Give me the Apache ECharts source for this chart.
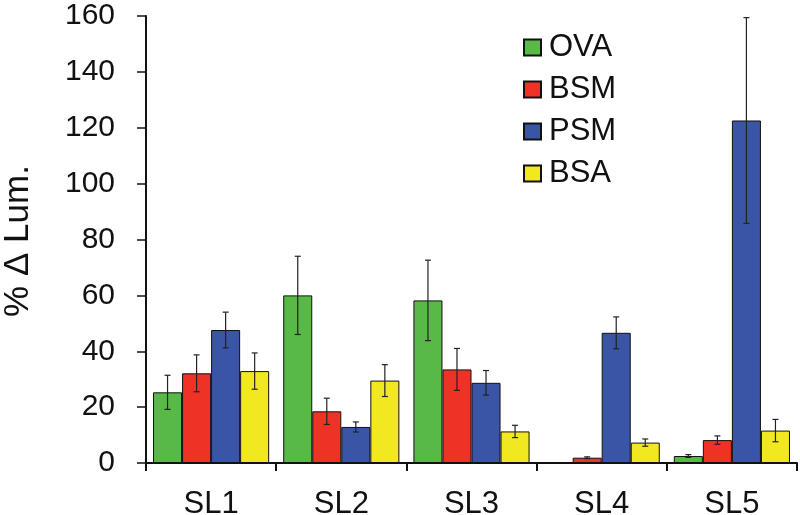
<!DOCTYPE html>
<html>
<head>
<meta charset="utf-8">
<script src="https://cdn.jsdelivr.net/npm/echarts@6/dist/echarts.min.js"></script>
<style>html,body{margin:0;padding:0;background:#fff}#c{width:800px;height:515px}</style>
</head>
<body>
<div id="c"></div>
<script>
const categories = ['SL1', 'SL2', 'SL3', 'SL4', 'SL5'];
const seriesNames = ['OVA', 'BSM', 'PSM', 'BSA'];
const ova = [25.3, 60.0, 58.2, 0, 2.5];
const ovaErr = [6.1, 14.0, 14.4, 0, 0.5];
const bsm = [32.1, 18.5, 33.5, 1.9, 8.2];
const bsmErr = [6.6, 4.7, 7.5, 0.3, 1.5];
const psm = [47.6, 12.9, 28.7, 46.6, 122.6];
const psmErr = [6.4, 1.8, 4.4, 5.7, 36.8];
const bsa = [32.9, 29.5, 11.3, 7.3, 11.6];
const bsaErr = [6.5, 5.7, 2.2, 1.3, 4.0];
const yTicks = [0, 20, 40, 60, 80, 100, 120, 140, 160];

const values = [ova, bsm, psm, bsa];
const errors = [ovaErr, bsmErr, psmErr, bsaErr];
const colors = ['#58b947', '#ee3226', '#3a55a5', '#f2e822'];
const catGap = 0.108;
const FONT = '"Liberation Sans", Arial, sans-serif';

const chart = echarts.init(document.getElementById('c'));

const barSeries = seriesNames.map((name, k) => ({
  name: name,
  type: 'bar',
  data: values[k],
  barGap: '0%',
  barCategoryGap: (catGap * 100) + '%',
  itemStyle: { color: colors[k], borderColor: '#111', borderWidth: 1 },
  z: 2
}));

const errSeries = seriesNames.map((name, k) => ({
  type: 'custom',
  name: name + ' err',
  z: 5,
  silent: true,
  data: values[k].map((v, i) => [i, v - errors[k][i], v + errors[k][i], errors[k][i]]),
  renderItem: function (params, api) {
    if (api.value(3) <= 0) return null;
    const cat = api.value(0);
    const lo = api.coord([cat, api.value(1)]);
    const hi = api.coord([cat, api.value(2)]);
    const catW = api.size([1, 0])[0];
    const barW = catW * (1 - catGap) / 4;
    const x = lo[0] + (k - 1.5) * barW;
    const cap = 3;
    const style = { stroke: '#222', lineWidth: 1.2 };
    return {
      type: 'group',
      children: [
        { type: 'line', shape: { x1: x, y1: lo[1], x2: x, y2: hi[1] }, style: style },
        { type: 'line', shape: { x1: x - cap, y1: lo[1], x2: x + cap, y2: lo[1] }, style: style },
        { type: 'line', shape: { x1: x - cap, y1: hi[1], x2: x + cap, y2: hi[1] }, style: style }
      ]
    };
  }
}));

chart.setOption({
  animation: false,
  backgroundColor: '#fff',
  grid: { left: 146, right: 3, top: 16, bottom: 52, containLabel: false, outerBoundsMode: 'none' },
  legend: {
    data: seriesNames,
    orient: 'vertical',
    left: 518,
    top: 27,
    itemWidth: 17,
    itemHeight: 16,
    itemGap: 11,
    icon: 'rect',
    textStyle: { fontFamily: FONT, fontSize: 31, color: '#111', lineHeight: 30, padding: [0, 0, 0, 3] }
  },
  xAxis: {
    type: 'category',
    data: categories,
    axisLine: { lineStyle: { color: '#111', width: 2 } },
    axisTick: { show: true, length: 8, lineStyle: { color: '#111', width: 2 } },
    axisLabel: { fontFamily: FONT, fontSize: 31, color: '#111', margin: 26 }
  },
  yAxis: {
    type: 'value',
    min: yTicks[0],
    max: yTicks[yTicks.length - 1],
    interval: 20,
    splitLine: { show: false },
    axisLine: { show: true, lineStyle: { color: '#111', width: 2 } },
    axisTick: { show: true, length: 9, lineStyle: { color: '#111', width: 1.5 } },
    axisLabel: { fontFamily: FONT, fontSize: 30, color: '#111', margin: 31 }
  },
  graphic: [{
    type: 'text',
    x: 18,
    y: 241,
    rotation: Math.PI / 2,
    style: {
      text: '% Δ Lum.',
      fontFamily: FONT,
      fontSize: 35,
      fill: '#111',
      textAlign: 'center',
      textVerticalAlign: 'middle'
    }
  }],
  series: barSeries.concat(errSeries)
});
</script>
</body>
</html>
